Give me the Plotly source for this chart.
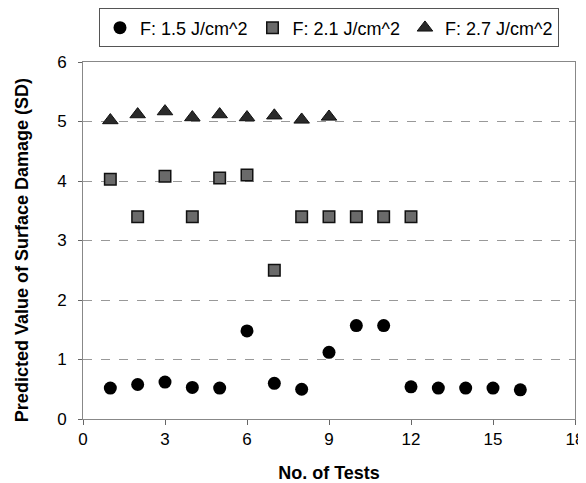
import plotly.graph_objects as go

tests_a = list(range(1, 17))
sd_a = [0.52, 0.58, 0.62, 0.53, 0.52, 1.48, 0.6, 0.5, 1.12, 1.57, 1.57, 0.54, 0.52, 0.52, 0.52, 0.49]
tests_b = list(range(1, 13))
sd_b = [4.03, 3.4, 4.08, 3.4, 4.05, 4.1, 2.5, 3.4, 3.4, 3.4, 3.4, 3.4]
tests_c = list(range(1, 10))
sd_c = [5.02, 5.12, 5.17, 5.07, 5.12, 5.07, 5.1, 5.03, 5.08]
names = ["F: 1.5 J/cm^2", "F: 2.1 J/cm^2", "F: 2.7 J/cm^2"]
x_ticks = [0, 3, 6, 9, 12, 15, 18]
y_ticks = [0, 1, 2, 3, 4, 5, 6]
y_title = "Predicted Value of Surface Damage (SD)"
x_title = "No. of Tests"

font = "Liberation Sans, Arial, sans-serif"
fig = go.Figure()
fig.add_trace(go.Scatter(x=tests_a, y=sd_a, mode="markers", name=names[0],
                         marker=dict(symbol="circle", size=13, color="black", line=dict(width=0))))
fig.add_trace(go.Scatter(x=tests_b, y=sd_b, mode="markers", name=names[1],
                         marker=dict(symbol="square", size=11.5, color="#6a6a6a", line=dict(width=1.5, color="#111"))))
fig.add_trace(go.Scatter(x=tests_c, y=sd_c, mode="markers", name=names[2],
                         marker=dict(symbol="triangle-up", size=13.5, color="#2a2a2a", line=dict(width=1, color="#111"))))

# page body has an 8px margin; figure sized/offset to compensate
fig.update_layout(
    width=578, height=475,
    margin=dict(l=75, r=11, t=54, b=64, autoexpand=False),
    paper_bgcolor="white", plot_bgcolor="white",
    font=dict(family=font, size=17, color="black"),
    showlegend=True,
    legend=dict(orientation="h", x=0.5, xanchor="center", y=0.999, yanchor="top",
                yref="container", bordercolor="#555", borderwidth=1,
                font=dict(size=18), itemwidth=30, tracegroupgap=0),
    xaxis=dict(range=[0, 18], tickvals=x_ticks, ticks="outside", ticklen=5, tickcolor="#666",
               showline=True, linecolor="#888", mirror=True, showgrid=False, zeroline=False,
               automargin=False, tickfont=dict(size=17), ticklabeloverflow="allow",
               title=dict(text="<b>" + x_title + "</b>", font=dict(size=18), standoff=23)),
    yaxis=dict(range=[0, 6], tickvals=y_ticks, ticks="outside", ticklen=4, tickcolor="#666",
               showline=True, linecolor="#888", mirror=True, showgrid=True, gridcolor="#999",
               griddash="dash", gridwidth=1, zeroline=False, automargin=False,
               tickfont=dict(size=17), ticklabelstandoff=8),
)
fig.add_annotation(text="<b>" + y_title + "</b>", textangle=-90, xref="paper", yref="paper",
                   x=0, y=0.473, xanchor="center", yanchor="middle", xshift=-61,
                   showarrow=False, font=dict(size=18))
fig.write_html("out.html")
